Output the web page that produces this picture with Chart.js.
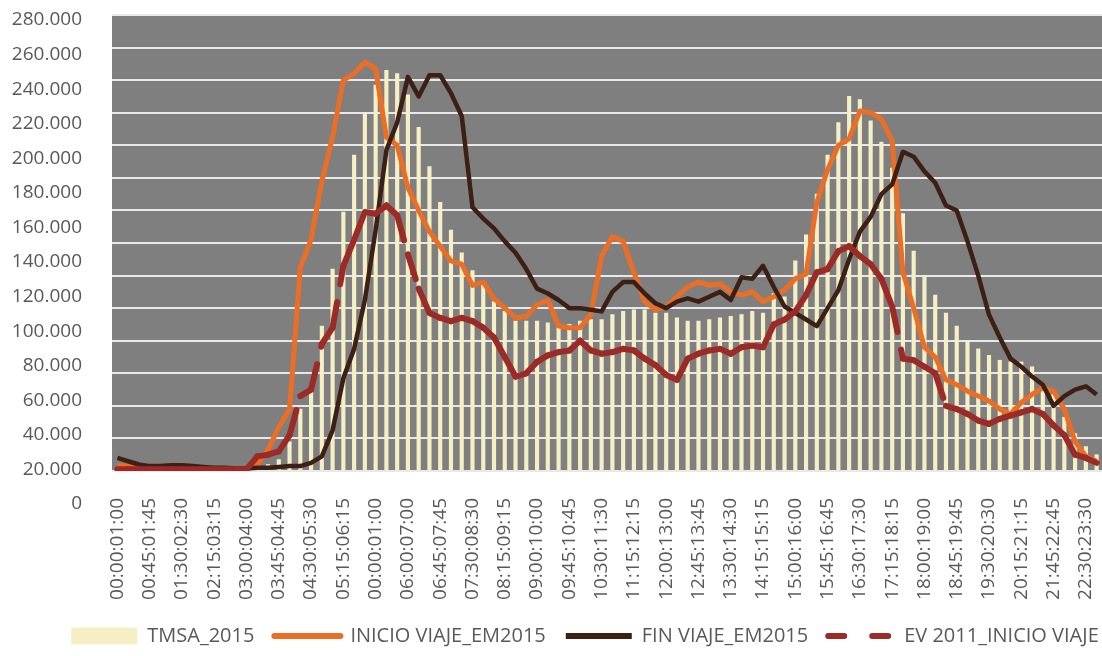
<!DOCTYPE html>
<html>
<head>
<meta charset="utf-8">
<script src="https://cdn.jsdelivr.net/npm/chart.js@4.4.1/dist/chart.umd.min.js"></script>
<style>
  html, body { margin: 0; padding: 0; background: #fff; overflow: hidden; }
  #wrap { width: 1102px; height: 656px; }
</style>
</head>
<body>
<div id="wrap"><canvas id="myChart" width="1102" height="656"></canvas></div>
<script>
// Tick labels printed on the x axis (one every 3 slots of 15 min)
const shownLabels = [
  "00:00:01:00", "00:45:01:45", "01:30:02:30", "02:15:03:15", "03:00:04:00",
  "03:45:04:45", "04:30:05:30", "05:15:06:15", "00:00:01:00", "06:00:07:00",
  "06:45:07:45", "07:30:08:30", "08:15:09:15", "09:00:10:00", "09:45:10:45",
  "10:30:11:30", "11:15:12:15", "12:00:13:00", "12:45:13:45", "13:30:14:30",
  "14:15:15:15", "15:00:16:00", "15:45:16:45", "16:30:17:30", "17:15:18:15",
  "18:00:19:00", "18:45:19:45", "19:30:20:30", "20:15:21:15", "21:45:22:45",
  "22:30:23:30",
];

// y axis ticks (thousands)
const yTicks = [0, 20, 40, 60, 80, 100, 120, 140, 160, 180, 200, 220, 240, 260, 280];

// Series, thousands of trips per 15-min slot (the 92 slots visible in the picture)
const tmsa2015 = [
  0, 0, 0, 0, 0, 0, 0, 0, 0, 0, 0, 0,
  1, 2, 4, 7, 18, 38, 52, 89, 124, 159, 194, 220,
  237, 246, 244, 231, 211, 187, 165, 148, 134, 123, 116, 104,
  98, 92, 92, 92, 91, 88, 90, 92, 93, 93, 96, 98,
  99, 99, 97, 97, 94, 92, 92, 93, 94, 95, 96, 98,
  97, 109, 107, 129, 145, 170, 194, 214, 230, 228, 215, 202,
  186, 158, 135, 119, 108, 97, 89, 80, 75, 71, 68, 67,
  67, 64, 53, 47, 33, 23, 15, 10,
];
const inicioViaje = [
  3, 3, 3, 2, 2, 2, 1.5, 1.5, 1, 1, 1, 1,
  1, 4, 13, 27, 38, 125, 142, 178, 205, 240, 244, 251,
  247, 205, 200, 174, 160, 147, 138, 129, 127, 114, 116, 106,
  100, 94, 95, 102, 105, 89, 88, 88, 96, 132, 144, 141,
  122, 104, 99, 101, 107, 113, 116, 114, 115, 110, 108, 110,
  104, 107, 111, 118, 121, 165, 185, 200, 204, 221, 220, 216,
  203, 122, 100, 76, 70, 56, 53, 49, 46, 43, 38, 35,
  42, 47, 51, 49, 38, 18, 9, 6,
];
const finViaje = [
  8, 6, 4, 3, 3, 3.5, 3.5, 3, 2.5, 2, 2, 1.5,
  1.5, 2, 2, 2.5, 3, 3, 5, 9, 25, 57, 75, 105,
  148, 197, 214, 242, 230, 243, 243, 232, 218, 162, 155, 149,
  141, 134, 124, 112, 109, 105, 100, 100, 99, 98, 110, 116,
  116, 109, 103, 100, 104, 106, 104, 107, 110, 105, 119, 118,
  126, 113, 101, 97, 93, 89, 100, 111, 130, 147, 156, 170,
  176, 196, 193, 184, 177, 163, 160, 141, 120, 96, 82, 69,
  64, 58, 53, 40, 46, 50, 52, 47,
];
const ev2011 = [
  1, 1, 1, 1, 1, 1, 1, 1, 1, 1, 1, 1,
  1, 9, 10, 12, 22, 46, 50, 78, 88, 126, 142, 159,
  158, 163, 157, 133, 112, 97, 94, 92, 94, 92, 88, 82,
  70, 58, 60, 67, 71, 73, 74, 80, 74, 72, 73, 75,
  74, 69, 65, 59, 56, 69, 72, 74, 75, 72, 76, 77,
  76, 90, 93, 98, 108, 122, 124, 135, 138, 132, 127, 118,
  101, 69, 68, 64, 60, 40, 38, 35, 31, 29, 32, 34,
  36, 38, 35, 28, 22, 10, 8, 5,
];

const labels = tmsa2015.map((v, i) => (i % 3 === 0 && shownLabels[i / 3]) || "");

const colors = {
  tmsa: "#f4efc5",
  inicio: "#ec6e25",
  fin: "#3c2015",
  ev: "#9c2a27",
};

// legend samples: a cream band, two solid lines and a dashed line
const legendStyle = [
  { lineWidth: 17, strokeStyle: colors.tmsa, lineDash: [], lineCap: "butt" },
  { lineWidth: 6, strokeStyle: colors.inicio, lineDash: [], lineCap: "round" },
  { lineWidth: 6, strokeStyle: colors.fin, lineDash: [], lineCap: "butt" },
  { lineWidth: 6, strokeStyle: colors.ev, lineDash: [16, 28], lineCap: "round" },
];

// gray plot area
const plotBg = {
  id: "plotBg",
  beforeDraw(chart) {
    const { ctx, chartArea: a } = chart;
    ctx.save();
    ctx.fillStyle = "#7f7f7f";
    ctx.fillRect(a.left, a.top, a.right - a.left, a.bottom - a.top);
    ctx.restore();
  },
};

Chart.defaults.font.family = "'Open Sans', sans-serif";
Chart.defaults.color = "#595959";

const myChart = new Chart(document.getElementById("myChart"), {
  data: {
    labels: labels,
    datasets: [
      {
        type: "bar",
        label: "TMSA_2015",
        data: tmsa2015,
        backgroundColor: colors.tmsa,
        barThickness: 3.5,
        order: 4,
      },
      {
        type: "line",
        label: "INICIO VIAJE_EM2015",
        data: inicioViaje,
        borderColor: colors.inicio,
        borderWidth: 5,
        borderJoinStyle: "round",
        pointRadius: 0,
        order: 3,
      },
      {
        type: "line",
        label: "FIN VIAJE_EM2015",
        data: finViaje,
        borderColor: colors.fin,
        borderWidth: 4.5,
        borderJoinStyle: "round",
        pointRadius: 0,
        order: 2,
      },
      {
        type: "line",
        label: "EV 2011_INICIO VIAJE",
        data: ev2011,
        borderColor: colors.ev,
        borderWidth: 6,
        borderDash: [26, 18],
        borderCapStyle: "round",
        borderJoinStyle: "round",
        pointRadius: 0,
        order: 1,
        // each segment is stroked on its own so the dash restarts at every point
        segment: {
          borderDashOffset: (ctx) => (ctx.p0DataIndex % 2) * 0.01,
        },
      },
    ],
  },
  plugins: [plotBg],
  options: {
    responsive: false,
    animation: false,
    // negative right padding only widens the full-width legend row (plot is cut at the edge)
    layout: { padding: { top: 15, left: 12, right: -56, bottom: 0 } },
    scales: {
      x: {
        grid: { display: false },
        border: { display: false },
        ticks: {
          autoSkip: false,
          minRotation: 90,
          maxRotation: 90,
          padding: 19,
          font: { size: 19 },
        },
        afterFit: (scale) => {
          scale.height = 135;
          scale.paddingLeft = 0;
          scale.paddingRight = 0;
        },
      },
      y: {
        min: 0,
        max: 280,
        ticks: { display: false, stepSize: 20 },
        grid: { color: "#e8e8e8", lineWidth: 2, drawTicks: false },
        border: { display: false },
      },
      // printed value labels, spaced a little wider than the gridlines
      yl: {
        position: "left",
        bounds: "data",
        min: 19.13,
        max: 282.9,
        grid: { display: false },
        border: { display: false },
        ticks: {
          autoSkip: false,
          padding: 22,
          font: { size: 19 },
          callback: (v) => (v === 0 ? "0" : v + ".000"),
        },
        afterBuildTicks: (scale) => {
          scale.ticks = yTicks.map((v) => ({ value: v }));
        },
        afterFit: (scale) => {
          scale.width = 100;
          scale.paddingTop = 0;
          scale.paddingBottom = 0;
        },
      },
    },
    plugins: {
      tooltip: { enabled: false },
      legend: {
        position: "bottom",
        labels: {
          usePointStyle: true,
          pointStyleWidth: 66,
          boxWidth: 66,
          padding: 20,
          color: "#595959",
          font: { size: 20 },
          sort: (a, b) => a.datasetIndex - b.datasetIndex,
          generateLabels: (chart) =>
            Chart.defaults.plugins.legend.labels.generateLabels(chart).map((item) => {
              const s = legendStyle[item.datasetIndex];
              return Object.assign(item, s, { pointStyle: "line", fillStyle: s.strokeStyle });
            }),
        },
      },
    },
  },
});
</script>
</body>
</html>
